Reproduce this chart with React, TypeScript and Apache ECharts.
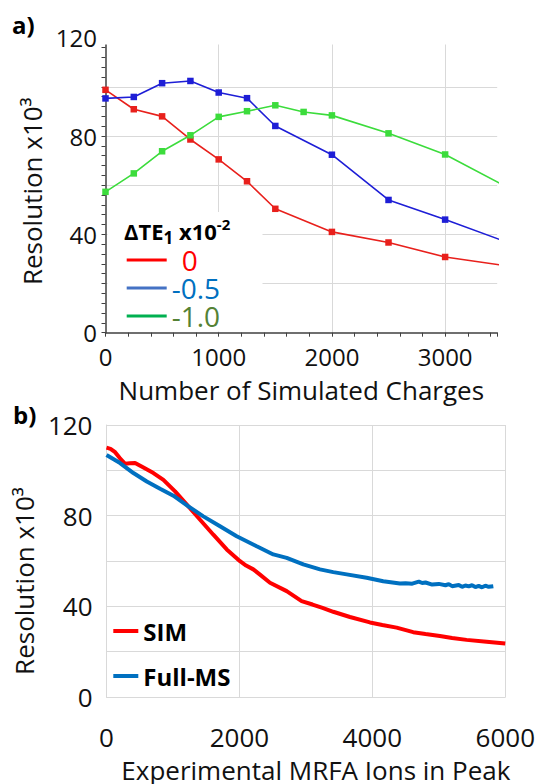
import React, { useEffect, useRef } from "react";
import * as echarts from "echarts";

// ---- panel a: simulated resolution vs number of charges ----
const chargesA = [0, 250, 500, 750, 1000, 1250, 1500, 2000, 2500, 3000, 3500];
const resDelta0 = [98.8, 90.9, 88.0, 78.6, 70.5, 61.6, 50.4, 41.0, 36.7, 30.8, 27.5];
const resDeltaM05 = [95.3, 95.9, 101.5, 102.4, 97.7, 95.4, 84.1, 72.4, 54.0, 46.0, 37.6];
const chargesGreen = [0, 250, 500, 750, 1000, 1250, 1500, 1750, 2000, 2500, 3000, 3500];
const resDeltaM10 = [57.3, 64.8, 73.8, 80.3, 87.8, 90.1, 92.5, 89.8, 88.4, 81.1, 72.5, 60.4];
const legendA = ["0", "-0.5", "-1.0"];

// ---- panel b: experimental resolution vs ions in peak ----
const ionsSim = [0, 60, 130, 200, 280, 350, 430, 556, 706, 856, 1032, 1232, 1408, 1608, 1809, 2009, 2100, 2209, 2300, 2460, 2711, 2936, 3100, 3250, 3412, 3663, 3964, 4150, 4365, 4615, 4800, 5016, 5200, 5418, 5719, 6000];
const resSim = [110.0, 109.5, 108.0, 105.4, 102.9, 103.1, 103.2, 101.2, 98.8, 95.8, 90.7, 84.1, 78.2, 71.6, 65.1, 59.9, 58.0, 56.3, 54.2, 50.4, 46.7, 42.3, 40.8, 39.3, 37.6, 35.3, 32.9, 31.8, 30.6, 28.6, 27.8, 26.9, 26.0, 25.2, 24.4, 23.6];
const ionsFull = [0, 204, 405, 606, 806, 1006, 1232, 1457, 1708, 1959, 2260, 2510, 2711, 2961, 3212, 3412, 3614, 3914, 4164, 4415, 4500, 4600, 4700, 4750, 4800, 4900, 5000, 5100, 5150, 5200, 5300, 5350, 5400, 5450, 5500, 5550, 5600, 5650, 5700, 5750, 5820];
const resFull = [106.8, 103.2, 98.8, 95.1, 91.9, 88.8, 84.1, 79.7, 75.3, 70.9, 66.5, 62.9, 61.4, 58.5, 56.3, 55.1, 54.1, 52.6, 51.1, 50.1, 50.2, 50.0, 50.9, 50.3, 50.5, 49.6, 49.9, 49.3, 49.8, 48.9, 49.4, 48.6, 49.2, 48.8, 49.3, 48.5, 49.0, 48.4, 49.1, 48.6, 48.9];
const legendB = ["SIM", "Full-MS"];

const FONT = "Open Sans";
const INK = "#111";
const AXIS_DARK = "#404040";
const GRID_GREY = "#D9D9D9";

const pairsA = (xs: number[], ys: number[]) =>
  xs.map((x, i) => (i === xs.length - 1 ? { value: [x, ys[i]], symbol: "none" } : [x, ys[i]]));

const lineA = (name: string, xs: number[], ys: number[], color: string) => ({
  name,
  type: "line",
  xAxisIndex: 0,
  yAxisIndex: 0,
  data: pairsA(xs, ys),
  symbol: "rect",
  symbolSize: 6.5,
  lineStyle: { color, width: 1.6 },
  itemStyle: { color },
  clip: true,
});

const lineB = (name: string, xs: number[], ys: number[], color: string) => ({
  name,
  type: "line",
  xAxisIndex: 1,
  yAxisIndex: 1,
  data: xs.map((x, i) => [x, ys[i]]),
  symbol: "none",
  lineStyle: { color, width: 4 },
  itemStyle: { color },
});

const plain = (v: number) => String(v);
const every40 = (v: number) => (v % 40 === 0 ? String(v) : "");

const option: any = {
  animation: false,
  backgroundColor: "#fff",
  textStyle: { fontFamily: FONT, color: INK },
  grid: [
    { left: 105.5, top: 37.7, width: 391.7, height: 295 },
    { left: 106.5, top: 425, width: 399, height: 273 },
  ],
  xAxis: [
    {
      type: "value",
      gridIndex: 0,
      position: "bottom",
      min: 0,
      max: 3460,
      interval: 1000,
      axisLine: { show: true, lineStyle: { color: AXIS_DARK, width: 1.5 } },
      axisTick: { show: false },
      axisLabel: { fontSize: 24, color: INK, margin: 12, showMaxLabel: false, fontFamily: FONT, formatter: plain },
      splitLine: { show: true, showMinLine: false, showMaxLine: false, lineStyle: { color: GRID_GREY, width: 1 } },
      name: "Number of Simulated Charges",
      nameLocation: "middle",
      nameGap: 44,
      nameTextStyle: { fontSize: 26, color: INK, fontFamily: FONT },
    },
    {
      type: "value",
      gridIndex: 1,
      min: 0,
      max: 6000,
      interval: 2000,
      axisLine: { show: true, lineStyle: { color: GRID_GREY, width: 1 } },
      axisTick: { show: false },
      axisLabel: { fontSize: 26, color: INK, margin: 27, fontFamily: FONT, formatter: plain },
      splitLine: { show: true, showMinLine: false, lineStyle: { color: GRID_GREY, width: 1 } },
      name: "Experimental MRFA Ions in Peak",
      nameLocation: "middle",
      nameGap: 60,
      nameTextStyle: { fontSize: 26, color: INK, fontFamily: FONT, padding: [0, 0, 0, 20] },
    },
    {
      // tick marks every 200 charges along the bottom of panel a
      type: "value",
      gridIndex: 0,
      position: "bottom",
      min: 0,
      max: 3460,
      interval: 200,
      axisLine: { show: false },
      axisTick: { show: true, length: 4, lineStyle: { color: AXIS_DARK, width: 1 } },
      axisLabel: { show: false },
      splitLine: { show: false },
    },
  ],
  yAxis: [
    {
      type: "value",
      gridIndex: 0,
      min: 0,
      max: 120,
      interval: 20,
      axisLine: { show: true, lineStyle: { color: AXIS_DARK, width: 1.5 } },
      axisTick: { show: true, length: 4, lineStyle: { color: AXIS_DARK, width: 1 } },
      minorTick: { show: true, splitNumber: 5, length: 4, lineStyle: { color: AXIS_DARK, width: 1 } },
      axisLabel: { fontSize: 24, color: INK, margin: 8.5, formatter: every40, fontFamily: FONT },
      splitLine: { show: true, showMinLine: false, showMaxLine: false, lineStyle: { color: GRID_GREY, width: 1 } },
      name: "Resolution x10³",
      nameLocation: "middle",
      nameRotate: 90,
      nameGap: 59.5,
      nameTextStyle: { fontSize: 26, color: INK, fontFamily: FONT, padding: [0, 12, 0, 0] },
    },
    {
      type: "value",
      gridIndex: 1,
      min: 0,
      max: 120,
      interval: 20,
      axisLine: { show: true, lineStyle: { color: GRID_GREY, width: 1 } },
      axisTick: { show: false },
      axisLabel: { fontSize: 26, color: INK, margin: 14, formatter: every40, fontFamily: FONT },
      splitLine: { show: true, showMinLine: false, lineStyle: { color: GRID_GREY, width: 1 } },
      name: "Resolution x10³",
      nameLocation: "middle",
      nameRotate: 90,
      nameGap: 58.5,
      nameTextStyle: { fontSize: 26, color: INK, fontFamily: FONT, padding: [0, 40, 0, 0] },
    },
  ],
  legend: [
    {
      data: [
        { name: legendA[0], itemStyle: { color: "#FF0000" }, textStyle: { color: "#FF0000", padding: [0, 0, 0, 10] } },
        { name: legendA[1], itemStyle: { color: "#4472C4" }, textStyle: { color: "#0070C0" } },
        { name: legendA[2], itemStyle: { color: "#00B050" }, textStyle: { color: "#548235" } },
      ],
      orient: "vertical",
      left: 126.7,
      top: 246,
      padding: 0,
      itemGap: 0,
      itemWidth: 40,
      itemHeight: 3,
      icon: "rect",
      selectedMode: false,
      textStyle: { fontSize: 28, lineHeight: 28, fontFamily: FONT },
    },
    {
      data: legendB,
      orient: "vertical",
      left: 113.3,
      top: 619,
      padding: 0,
      itemGap: 21,
      itemWidth: 25,
      itemHeight: 4,
      icon: "rect",
      selectedMode: false,
      textStyle: { fontSize: 24, lineHeight: 24, fontWeight: "bold", color: "#000", fontFamily: FONT },
    },
  ],
  graphic: {
    elements: [
      // the plot of panel a is trimmed just below the 120 level
      { type: "rect", z: 5, shape: { x: 99, y: 30, width: 402, height: 14.6 }, style: { fill: "#fff" } },
      // white box behind the legend of panel a
      { type: "rect", z: 3, shape: { x: 107.5, y: 212, width: 155, height: 119.5 }, style: { fill: "#fff" } },
      {
        type: "text",
        z: 10,
        x: 124,
        y: 231,
        style: {
          text: "{m|ΔTE}{sub|1}{m| x10}{sup|-2}",
          verticalAlign: "middle",
          fill: "#000",
          rich: {
            m: { fontSize: 22, fontWeight: "bold", fontFamily: FONT, lineHeight: 30, fill: "#000" },
            sub: { fontSize: 17, fontWeight: "bold", fontFamily: FONT, lineHeight: 14, verticalAlign: "bottom", fill: "#000" },
            sup: { fontSize: 15, fontWeight: "bold", fontFamily: FONT, lineHeight: 17, verticalAlign: "top", fill: "#000" },
          },
        },
      },
      {
        type: "text",
        z: 10,
        x: 12,
        y: 24,
        style: { text: "a)", fontSize: 24, fontWeight: "bold", fontFamily: FONT, fill: "#000", verticalAlign: "middle" },
      },
      {
        type: "text",
        z: 10,
        x: 13,
        y: 414,
        style: { text: "b)", fontSize: 24, fontWeight: "bold", fontFamily: FONT, fill: "#000", verticalAlign: "middle" },
      },
    ],
  },
  series: [
    lineA(legendA[0], chargesA, resDelta0, "#E8201C"),
    lineA(legendA[1], chargesA, resDeltaM05, "#1E1ED6"),
    lineA(legendA[2], chargesGreen, resDeltaM10, "#3CDC3C"),
    lineB(legendB[0], ionsSim, resSim, "#FF0000"),
    lineB(legendB[1], ionsFull, resFull, "#0070C0"),
  ],
};

export default function App() {
  const ref = useRef<HTMLDivElement>(null);
  useEffect(() => {
    if (!ref.current) return;
    const chart = echarts.init(ref.current, null, { renderer: "svg" });
    chart.setOption(option);
    return () => chart.dispose();
  }, []);
  return (
    <div
      ref={ref}
      style={{ position: "absolute", left: 0, top: 0, width: 538, height: 784, background: "#fff" }}
    />
  );
}
